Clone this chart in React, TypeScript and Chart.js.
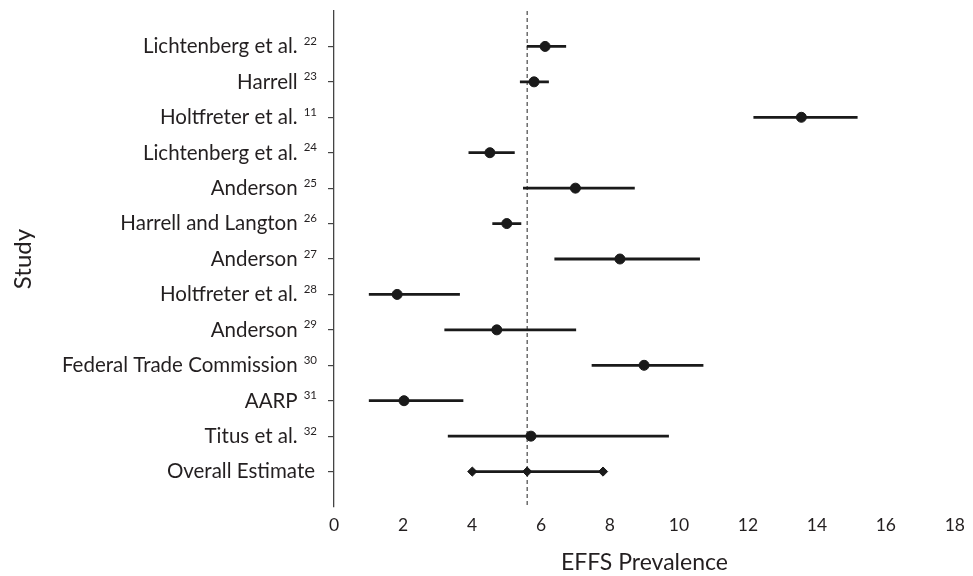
import React, { useEffect, useRef } from "react";
import { Chart, registerables } from "chart.js";

Chart.register(...registerables);

const studies = [
  "Lichtenberg et al.",
  "Harrell",
  "Holtfreter et al.",
  "Lichtenberg et al.",
  "Anderson",
  "Harrell and Langton",
  "Anderson",
  "Holtfreter et al.",
  "Anderson",
  "Federal Trade Commission",
  "AARP",
  "Titus et al.",
  "Overall Estimate",
];
const refs = ["22", "23", "11", "24", "25", "26", "27", "28", "29", "30", "31", "32", ""];
const estimates = [6.12, 5.8, 13.55, 4.52, 7.0, 5.01, 8.29, 1.83, 4.72, 8.99, 2.03, 5.71, 5.6];
const lower = [5.59, 5.39, 12.16, 3.9, 5.48, 4.59, 6.39, 1.01, 3.2, 7.47, 1.01, 3.3, 4.01];
const upper = [6.73, 6.23, 15.18, 5.24, 8.72, 5.43, 10.61, 3.65, 7.02, 10.71, 3.75, 9.71, 7.8];
const overallValue = 5.6;
const xTicks = [0, 2, 4, 6, 8, 10, 12, 14, 16, 18];

const INK = "#1a1a1a";
const TEXT = "#231f20";
const FONT = "Lato";

const labelPlugin = {
  id: "studyLabels",
  afterDraw(chart: any) {
    const ctx = chart.ctx;
    const yScale = chart.scales.y;
    const rightEdge = 317;
    ctx.save();
    ctx.fillStyle = TEXT;
    ctx.textBaseline = "alphabetic";
    ctx.textAlign = "right";
    studies.forEach((name, i) => {
      const y = yScale.getPixelForValue(i);
      let mainRight = rightEdge - 2;
      if (refs[i]) {
        ctx.font = `11.5px ${FONT}`;
        const w = ctx.measureText(refs[i]).width;
        ctx.fillText(refs[i], rightEdge, y - 1.5);
        mainRight = rightEdge - w - 6;
      }
      ctx.font = `20.5px ${FONT}`;
      ctx.fillText(name, mainRight, y + 6.8);
    });
    ctx.restore();
  },
};

export default function App() {
  const ref = useRef<HTMLCanvasElement | null>(null);

  useEffect(() => {
    if (!ref.current) return;
    const n = studies.length;
    const barSets = studies.map((_, i) => ({
      type: "line" as const,
      data: [
        { x: lower[i], y: i },
        { x: upper[i], y: i },
      ],
      borderColor: INK,
      borderWidth: 2.8,
      pointRadius: 0,
      order: 2,
    }));
    const dotData = estimates
      .map((v, i) => ({ x: v, y: i }))
      .filter((_, i) => i < n - 1);
    const diamondData = [
      { x: lower[n - 1], y: n - 1 },
      { x: estimates[n - 1], y: n - 1 },
      { x: upper[n - 1], y: n - 1 },
    ];

    const chart = new Chart(ref.current, {
      type: "scatter",
      data: {
        datasets: [
          {
            type: "line",
            data: [
              { x: overallValue, y: -1 },
              { x: overallValue, y: 13 },
            ],
            borderColor: "#222",
            borderWidth: 1,
            borderDash: [4, 3],
            pointRadius: 0,
            order: 3,
          } as any,
          ...barSets,
          {
            data: dotData,
            backgroundColor: INK,
            borderColor: INK,
            borderWidth: 1,
            pointRadius: 5,
            pointStyle: "circle",
            order: 0,
          },
          {
            data: diamondData,
            backgroundColor: INK,
            borderColor: INK,
            borderWidth: 1,
            pointRadius: 4.6,
            pointStyle: "rectRot",
            order: 0,
          },
        ],
      },
      options: {
        animation: false,
        responsive: false,
        maintainAspectRatio: false,
        layout: { padding: { left: 0, right: 13, top: 11, bottom: 0 } },
        plugins: {
          legend: { display: false },
          tooltip: { enabled: false },
        },
        scales: {
          x: {
            type: "linear",
            min: 0,
            max: 18,
            afterBuildTicks: (s: any) => {
              s.ticks = xTicks.map((v) => ({ value: v }));
            },
            afterFit: (s: any) => {
              s.height = 69;
            },
            grid: { display: false, drawTicks: false },
            border: { display: false },
            ticks: {
              color: TEXT,
              font: { family: FONT, size: 17.5 },
              padding: 8,
              maxRotation: 0,
            },
            title: {
              display: true,
              text: "EFFS Prevalence",
              color: TEXT,
              font: { family: FONT, size: 23 },
              padding: { top: 0, bottom: 0 },
            },
          },
          y: {
            type: "linear",
            min: -1,
            max: 13,
            reverse: true,
            afterBuildTicks: (s: any) => {
              s.ticks = studies.map((_, i) => ({ value: i }));
            },
            afterFit: (s: any) => {
              s.width = 334;
            },
            grid: {
              display: true,
              drawOnChartArea: false,
              drawTicks: true,
              tickLength: 6,
              color: "#444",
              lineWidth: 1.2,
            },
            border: { display: true, color: "#444", width: 1.3 },
            ticks: { display: false },
            title: {
              display: true,
              text: "Study",
              color: TEXT,
              font: { family: FONT, size: 24 },
              padding: { top: 9, bottom: 0 },
            },
          },
        },
      },
      plugins: [labelPlugin],
    } as any);
    return () => chart.destroy();
  }, []);

  return (
    <div style={{ position: "fixed", left: 0, top: 0, width: 973, height: 576, background: "#fff" }}>
      <canvas ref={ref} width={973} height={576} style={{ width: 973, height: 576 }} />
    </div>
  );
}
